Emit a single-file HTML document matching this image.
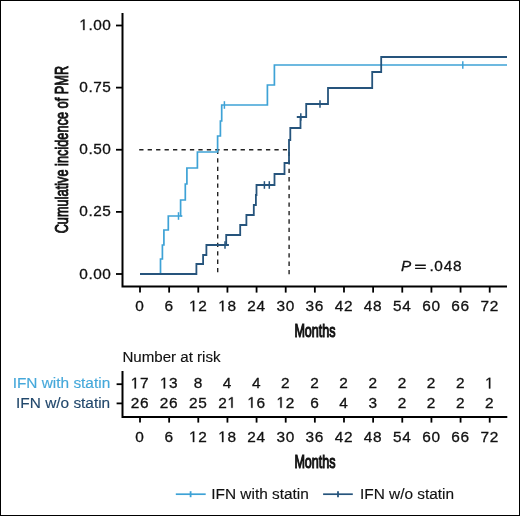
<!DOCTYPE html>
<html><head><meta charset="utf-8"><style>
html,body{margin:0;padding:0;background:#fff;}
#w{position:relative;width:520px;height:516px;box-sizing:border-box;border:1px solid #000;background:#fff;overflow:hidden;}
svg{position:absolute;left:-1px;top:-1px;will-change:transform;}
text{font-family:'Liberation Sans', sans-serif;fill:#111;stroke:#111;stroke-width:0.3px;}
.n{font-size:15.4px;letter-spacing:0.7px;}
.t{font-size:15.4px;stroke-width:0.15px;}
.c{font-size:18.5px;stroke:#111;stroke-width:1.1px;}
</style></head><body><div id="w">
<svg width="520" height="516" viewBox="0 0 520 516">
<path d="M122.5,13 V286.4 H507" fill="none" stroke="#000" stroke-width="2"/>
<line x1="116" y1="274.00" x2="122.5" y2="274.00" stroke="#000" stroke-width="1.8"/>
<text x="111.45" y="278.60" text-anchor="end" class="n" style="letter-spacing:0.55px">0.00</text>
<line x1="116" y1="211.88" x2="122.5" y2="211.88" stroke="#000" stroke-width="1.8"/>
<text x="111.45" y="216.47" text-anchor="end" class="n" style="letter-spacing:0.55px">0.25</text>
<line x1="116" y1="149.75" x2="122.5" y2="149.75" stroke="#000" stroke-width="1.8"/>
<text x="111.45" y="154.35" text-anchor="end" class="n" style="letter-spacing:0.55px">0.50</text>
<line x1="116" y1="87.62" x2="122.5" y2="87.62" stroke="#000" stroke-width="1.8"/>
<text x="111.45" y="92.22" text-anchor="end" class="n" style="letter-spacing:0.55px">0.75</text>
<line x1="116" y1="25.50" x2="122.5" y2="25.50" stroke="#000" stroke-width="1.8"/>
<text id="n1" x="111.45" y="30.10" text-anchor="end" class="n" style="letter-spacing:0.55px"> .00</text>
<line x1="140.00" y1="286.4" x2="140.00" y2="292.6" stroke="#000" stroke-width="1.8"/>
<text x="140.00" y="311.30" text-anchor="middle" class="n">0</text>
<line x1="169.14" y1="286.4" x2="169.14" y2="292.6" stroke="#000" stroke-width="1.8"/>
<text x="169.14" y="311.30" text-anchor="middle" class="n">6</text>
<line x1="198.28" y1="286.4" x2="198.28" y2="292.6" stroke="#000" stroke-width="1.8"/>
<text id="n2" x="198.28" y="311.30" text-anchor="middle" class="n"> 2</text>
<line x1="227.43" y1="286.4" x2="227.43" y2="292.6" stroke="#000" stroke-width="1.8"/>
<text id="n3" x="227.43" y="311.30" text-anchor="middle" class="n"> 8</text>
<line x1="256.57" y1="286.4" x2="256.57" y2="292.6" stroke="#000" stroke-width="1.8"/>
<text x="256.57" y="311.30" text-anchor="middle" class="n">24</text>
<line x1="285.71" y1="286.4" x2="285.71" y2="292.6" stroke="#000" stroke-width="1.8"/>
<text x="285.71" y="311.30" text-anchor="middle" class="n">30</text>
<line x1="314.85" y1="286.4" x2="314.85" y2="292.6" stroke="#000" stroke-width="1.8"/>
<text x="314.85" y="311.30" text-anchor="middle" class="n">36</text>
<line x1="343.99" y1="286.4" x2="343.99" y2="292.6" stroke="#000" stroke-width="1.8"/>
<text x="343.99" y="311.30" text-anchor="middle" class="n">42</text>
<line x1="373.13" y1="286.4" x2="373.13" y2="292.6" stroke="#000" stroke-width="1.8"/>
<text x="373.13" y="311.30" text-anchor="middle" class="n">48</text>
<line x1="402.27" y1="286.4" x2="402.27" y2="292.6" stroke="#000" stroke-width="1.8"/>
<text x="402.27" y="311.30" text-anchor="middle" class="n">54</text>
<line x1="431.42" y1="286.4" x2="431.42" y2="292.6" stroke="#000" stroke-width="1.8"/>
<text x="431.42" y="311.30" text-anchor="middle" class="n">60</text>
<line x1="460.56" y1="286.4" x2="460.56" y2="292.6" stroke="#000" stroke-width="1.8"/>
<text x="460.56" y="311.30" text-anchor="middle" class="n">66</text>
<line x1="489.70" y1="286.4" x2="489.70" y2="292.6" stroke="#000" stroke-width="1.8"/>
<text x="489.70" y="311.30" text-anchor="middle" class="n">72</text>
<text transform="translate(67.6,149.6) rotate(-90)" x="0" y="0" text-anchor="middle" class="c" style="font-size:18px;stroke-width:0.9px" textLength="167.5" lengthAdjust="spacingAndGlyphs">Cumulative incidence of PMR</text>
<text x="315" y="337.2" text-anchor="middle" class="c" style="font-size:18px" textLength="41.2" lengthAdjust="spacingAndGlyphs">Months</text>
<path d="M139.2,149.75 H287" stroke="#222" stroke-width="1.4" stroke-dasharray="4.3 4.15" fill="none"/>
<path d="M217.7,149.75 V274" stroke="#222" stroke-width="1.4" stroke-dasharray="4.3 4.15" fill="none"/>
<path d="M289.1,151.75 V274.2" stroke="#222" stroke-width="1.4" stroke-dasharray="4.3 4.15" fill="none"/>
<path d="M140,274H160.5V259H162.4V245H163.9V230H168.3V216H180.6V200H185.3V184H186.9V168H197.4V152H217.6V136H220.4V121H221.7V105H267.4V85H274.4V65H507" fill="none" stroke="#3ea2d6" stroke-width="1.7"/>
<line x1="178.50" y1="212.20" x2="178.50" y2="219.80" stroke="#3ea2d6" stroke-width="1.5"/><line x1="224.40" y1="101.20" x2="224.40" y2="108.80" stroke="#3ea2d6" stroke-width="1.5"/><line x1="462.80" y1="61.20" x2="462.80" y2="68.80" stroke="#3ea2d6" stroke-width="1.5"/>
<path d="M140,274H196.4V264H203.1V255H206.4V245H226.2V235H240.2V225H246.4V215H253.8V205H255.9V195H256.5V185H274.5V174H284.5V163H289.0V140H290.3V128H300.5V117H306.2V104H328.0V88H372.2V72H381.2V57H507" fill="none" stroke="#26547c" stroke-width="1.8"/>
<line x1="225.00" y1="241.20" x2="225.00" y2="248.80" stroke="#26547c" stroke-width="1.5"/><line x1="264.40" y1="181.20" x2="264.40" y2="188.80" stroke="#26547c" stroke-width="1.5"/><line x1="269.30" y1="181.20" x2="269.30" y2="188.80" stroke="#26547c" stroke-width="1.5"/><line x1="300.80" y1="113.20" x2="300.80" y2="120.80" stroke="#26547c" stroke-width="1.5"/><line x1="320.00" y1="100.20" x2="320.00" y2="107.80" stroke="#26547c" stroke-width="1.5"/>
<path d="M180.6,216H182.3" stroke="#3ea2d6" stroke-width="1.7"/>
<path d="M226,245H228.9M296.8,117H300.5" stroke="#26547c" stroke-width="1.8"/>
<text x="401" y="270.9" class="n" style="font-style:italic;font-size:15.3px">P</text>
<path d="M415.1,265.2H425.8M415.1,268.4H425.8" stroke="#111" stroke-width="1.4"/>
<text x="429.4" y="270.9" class="n">.048</text>
<text x="122.4" y="361.75" class="t" style="font-size:15.1px">Number at risk</text>
<path d="M122.5,370.9 V417 H507.3" fill="none" stroke="#000" stroke-width="2"/>
<line x1="116.6" y1="384.2" x2="122.5" y2="384.2" stroke="#000" stroke-width="1.8"/>
<line x1="116.6" y1="403.4" x2="122.5" y2="403.4" stroke="#000" stroke-width="1.8"/>
<text x="110.2" y="388.1" text-anchor="end" class="t" style="fill:#45a8da;stroke:#45a8da" dx="0">IFN with statin</text>
<text x="110.2" y="408.2" text-anchor="end" class="t" style="fill:#22486c;stroke:#22486c">IFN w/o statin</text>
<text id="n4" x="140.00" y="388.40" text-anchor="middle" class="n"> 7</text>
<text x="140.00" y="407.80" text-anchor="middle" class="n">26</text>
<line x1="140.00" y1="417" x2="140.00" y2="422.6" stroke="#000" stroke-width="1.8"/>
<text x="140.00" y="442.10" text-anchor="middle" class="n">0</text>
<text id="n5" x="169.14" y="388.40" text-anchor="middle" class="n"> 3</text>
<text x="169.14" y="407.80" text-anchor="middle" class="n">26</text>
<line x1="169.14" y1="417" x2="169.14" y2="422.6" stroke="#000" stroke-width="1.8"/>
<text x="169.14" y="442.10" text-anchor="middle" class="n">6</text>
<text x="198.28" y="388.40" text-anchor="middle" class="n">8</text>
<text x="198.28" y="407.80" text-anchor="middle" class="n">25</text>
<line x1="198.28" y1="417" x2="198.28" y2="422.6" stroke="#000" stroke-width="1.8"/>
<text id="n6" x="198.28" y="442.10" text-anchor="middle" class="n"> 2</text>
<text x="227.43" y="388.40" text-anchor="middle" class="n">4</text>
<text id="n7" x="227.43" y="407.80" text-anchor="middle" class="n">2 </text>
<line x1="227.43" y1="417" x2="227.43" y2="422.6" stroke="#000" stroke-width="1.8"/>
<text id="n8" x="227.43" y="442.10" text-anchor="middle" class="n"> 8</text>
<text x="256.57" y="388.40" text-anchor="middle" class="n">4</text>
<text id="n9" x="256.57" y="407.80" text-anchor="middle" class="n"> 6</text>
<line x1="256.57" y1="417" x2="256.57" y2="422.6" stroke="#000" stroke-width="1.8"/>
<text x="256.57" y="442.10" text-anchor="middle" class="n">24</text>
<text x="285.71" y="388.40" text-anchor="middle" class="n">2</text>
<text id="n10" x="285.71" y="407.80" text-anchor="middle" class="n"> 2</text>
<line x1="285.71" y1="417" x2="285.71" y2="422.6" stroke="#000" stroke-width="1.8"/>
<text x="285.71" y="442.10" text-anchor="middle" class="n">30</text>
<text x="314.85" y="388.40" text-anchor="middle" class="n">2</text>
<text x="314.85" y="407.80" text-anchor="middle" class="n">6</text>
<line x1="314.85" y1="417" x2="314.85" y2="422.6" stroke="#000" stroke-width="1.8"/>
<text x="314.85" y="442.10" text-anchor="middle" class="n">36</text>
<text x="343.99" y="388.40" text-anchor="middle" class="n">2</text>
<text x="343.99" y="407.80" text-anchor="middle" class="n">4</text>
<line x1="343.99" y1="417" x2="343.99" y2="422.6" stroke="#000" stroke-width="1.8"/>
<text x="343.99" y="442.10" text-anchor="middle" class="n">42</text>
<text x="373.13" y="388.40" text-anchor="middle" class="n">2</text>
<text x="373.13" y="407.80" text-anchor="middle" class="n">3</text>
<line x1="373.13" y1="417" x2="373.13" y2="422.6" stroke="#000" stroke-width="1.8"/>
<text x="373.13" y="442.10" text-anchor="middle" class="n">48</text>
<text x="402.27" y="388.40" text-anchor="middle" class="n">2</text>
<text x="402.27" y="407.80" text-anchor="middle" class="n">2</text>
<line x1="402.27" y1="417" x2="402.27" y2="422.6" stroke="#000" stroke-width="1.8"/>
<text x="402.27" y="442.10" text-anchor="middle" class="n">54</text>
<text x="431.42" y="388.40" text-anchor="middle" class="n">2</text>
<text x="431.42" y="407.80" text-anchor="middle" class="n">2</text>
<line x1="431.42" y1="417" x2="431.42" y2="422.6" stroke="#000" stroke-width="1.8"/>
<text x="431.42" y="442.10" text-anchor="middle" class="n">60</text>
<text x="460.56" y="388.40" text-anchor="middle" class="n">2</text>
<text x="460.56" y="407.80" text-anchor="middle" class="n">2</text>
<line x1="460.56" y1="417" x2="460.56" y2="422.6" stroke="#000" stroke-width="1.8"/>
<text x="460.56" y="442.10" text-anchor="middle" class="n">66</text>
<text id="n11" x="489.70" y="388.40" text-anchor="middle" class="n"> </text>
<text x="489.70" y="407.80" text-anchor="middle" class="n">2</text>
<line x1="489.70" y1="417" x2="489.70" y2="422.6" stroke="#000" stroke-width="1.8"/>
<text x="489.70" y="442.10" text-anchor="middle" class="n">72</text>
<text x="315" y="468.1" text-anchor="middle" class="c" style="font-size:18px" textLength="41.2" lengthAdjust="spacingAndGlyphs">Months</text>
<line x1="175.8" y1="494.2" x2="205.7" y2="494.2" stroke="#3ea2d6" stroke-width="1.7"/>
<line x1="190.6" y1="491.2" x2="190.6" y2="497.2" stroke="#3ea2d6" stroke-width="1.8"/>
<text x="211.3" y="498.6" class="t">IFN with statin</text>
<line x1="323.1" y1="494.2" x2="352.8" y2="494.2" stroke="#26547c" stroke-width="1.7"/>
<line x1="338" y1="491.2" x2="338" y2="497.2" stroke="#26547c" stroke-width="1.8"/>
<text x="360" y="498.6" class="t">IFN w/o statin</text>
<path transform="translate(79.29,30.10) scale(0.007520,-0.007520)" d="M515,0L515,1237L197,1010L197,1180L530,1409L696,1409L696,0Z" fill="#111" stroke="#111" stroke-width="0.3" vector-effect="non-scaling-stroke"/>
<path transform="translate(189.01,311.30) scale(0.007520,-0.007520)" d="M515,0L515,1237L197,1010L197,1180L530,1409L696,1409L696,0Z" fill="#111" stroke="#111" stroke-width="0.3" vector-effect="non-scaling-stroke"/>
<path transform="translate(218.16,311.30) scale(0.007520,-0.007520)" d="M515,0L515,1237L197,1010L197,1180L530,1409L696,1409L696,0Z" fill="#111" stroke="#111" stroke-width="0.3" vector-effect="non-scaling-stroke"/>
<path transform="translate(130.73,388.40) scale(0.007520,-0.007520)" d="M515,0L515,1237L197,1010L197,1180L530,1409L696,1409L696,0Z" fill="#111" stroke="#111" stroke-width="0.3" vector-effect="non-scaling-stroke"/>
<path transform="translate(159.87,388.40) scale(0.007520,-0.007520)" d="M515,0L515,1237L197,1010L197,1180L530,1409L696,1409L696,0Z" fill="#111" stroke="#111" stroke-width="0.3" vector-effect="non-scaling-stroke"/>
<path transform="translate(189.01,442.10) scale(0.007520,-0.007520)" d="M515,0L515,1237L197,1010L197,1180L530,1409L696,1409L696,0Z" fill="#111" stroke="#111" stroke-width="0.3" vector-effect="non-scaling-stroke"/>
<path transform="translate(227.41,407.80) scale(0.007520,-0.007520)" d="M515,0L515,1237L197,1010L197,1180L530,1409L696,1409L696,0Z" fill="#111" stroke="#111" stroke-width="0.3" vector-effect="non-scaling-stroke"/>
<path transform="translate(218.16,442.10) scale(0.007520,-0.007520)" d="M515,0L515,1237L197,1010L197,1180L530,1409L696,1409L696,0Z" fill="#111" stroke="#111" stroke-width="0.3" vector-effect="non-scaling-stroke"/>
<path transform="translate(247.30,407.80) scale(0.007520,-0.007520)" d="M515,0L515,1237L197,1010L197,1180L530,1409L696,1409L696,0Z" fill="#111" stroke="#111" stroke-width="0.3" vector-effect="non-scaling-stroke"/>
<path transform="translate(276.44,407.80) scale(0.007520,-0.007520)" d="M515,0L515,1237L197,1010L197,1180L530,1409L696,1409L696,0Z" fill="#111" stroke="#111" stroke-width="0.3" vector-effect="non-scaling-stroke"/>
<path transform="translate(485.07,388.40) scale(0.007520,-0.007520)" d="M515,0L515,1237L197,1010L197,1180L530,1409L696,1409L696,0Z" fill="#111" stroke="#111" stroke-width="0.3" vector-effect="non-scaling-stroke"/>
</svg></div></body></html>
